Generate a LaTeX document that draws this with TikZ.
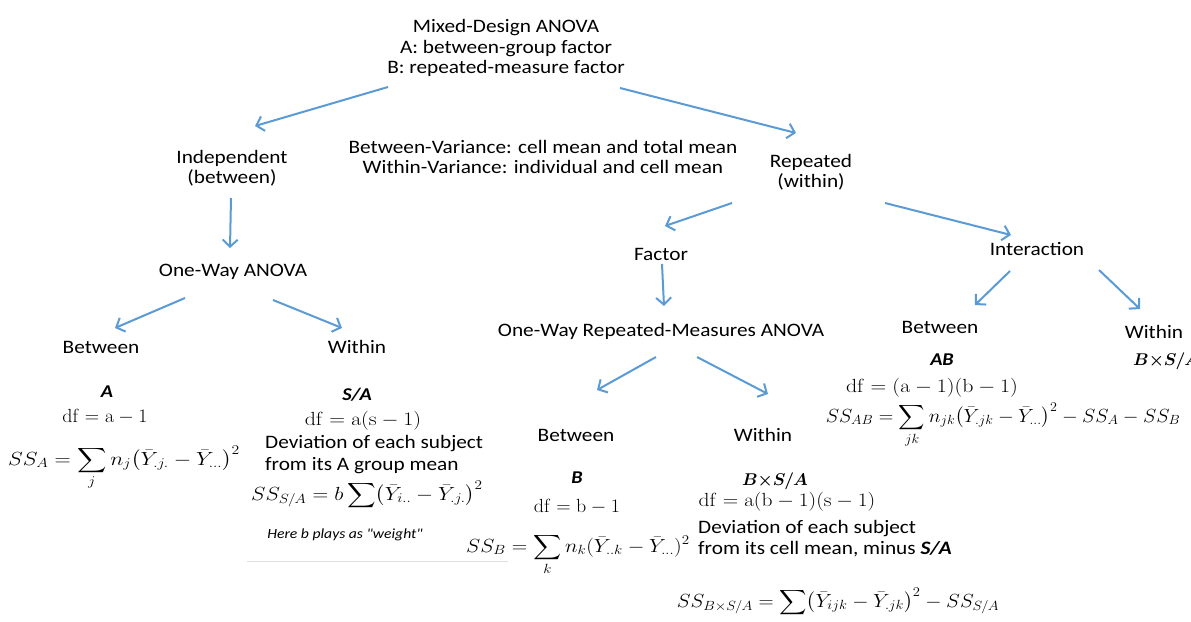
\RequirePackage{fix-cm}
\documentclass[tikz,border=0pt]{standalone}
\usepackage{amsmath}
\usepackage{bm}
\usepackage{graphicx}
\usepackage[no-math]{fontspec}
\setmainfont{Carlito}[FakeStretch=1.12]
\newfontfamily\plainquote{Carlito}[FakeStretch=1.12, Ligatures=TeXOff]
\usetikzlibrary{arrows.meta}
\definecolor{arrblue}{RGB}{91,155,213}
\newcommand{\hsc}[2]{\scalebox{#1}[1]{#2}}
\tikzset{
  txt/.style={font=\fontsize{19}{20.5}\selectfont, align=center, inner sep=0pt},
  ltxt/.style={font=\fontsize{19}{20.5}\selectfont, inner sep=0pt, anchor=base west},
  lab/.style={font=\fontsize{18}{21}\selectfont\bfseries\itshape, inner sep=0pt, anchor=base},
  mth/.style={font=\fontsize{19}{23}\selectfont, inner sep=0pt, anchor=base},
  blab/.style={font=\fontsize{17}{21}\selectfont, inner sep=0pt, anchor=base},
  small/.style={font=\plainquote\fontsize{14}{16}\selectfont\itshape, inner sep=0pt, anchor=base},
  arr/.style={draw=arrblue, line width=2pt, -{Straight Barb[length=7pt,width=15pt,line width=2pt]}}
}
\begin{document}
\begin{tikzpicture}[x=1pt,y=-1pt]
\useasboundingbox[fill=white] (0,0) rectangle (1191,621);
% top
\node[txt] (title) at (506,48) {Mixed-Design ANOVA\\A: between-group factor\\B: repeated-measure factor};
\node[txt] (var) at (543,157) {Between-Variance: cell mean and total mean\\Within-Variance: individual and cell mean};
\node[txt] (indep) at (232,168) {Independent\\(between)};
\node[txt] (rep) at (811,172) {Repeated\\(within)};
% left branch
\node[txt] (oneway) at (233,272) {One-Way ANOVA};
\node[txt] (b1) at (101,347) {Between};
\node[txt] (w1) at (357,347) {Within};
\node[lab] (labA) at (107,397) {A};
\node[mth] (dfA) at (105,422) {\hsc{1.05}{$\mathrm{df}=\mathrm{a}-1$}};
\node[mth] (ssA) at (124,465) {\hsc{1.18}{$\displaystyle SS_A=\sum_j n_j\bigl(\bar Y_{.j.}-\bar Y_{...}\bigr)^2$}};
\node[lab] (labSA) at (357,400) {S/A};
\node[mth] (dfSA) at (363,425) {\hsc{1.15}{$\mathrm{df}=\mathrm{a}(\mathrm{s}-1)$}};
\node[ltxt] (devSA1) at (265,448) {Deviation of each subject};
\node[ltxt] (devSA2) at (265,470) {from its A group mean};
\node[mth] (ssSA) at (367,500) {\hsc{1.15}{$\displaystyle SS_{S/A}=b\sum\bigl(\bar Y_{i..}-\bar Y_{.j.}\bigr)^2$}};
\node[small] (note) at (345,538) {Here b plays as "weight"};
\coordinate (gl1) at (247,561);
\coordinate (gl2) at (508,561);
\draw[black!12, line width=1pt] (gl1) -- (gl2);
% right branch
\node[txt] (factor) at (661,254) {Factor};
\node[txt] (inter) at (1037,249) {Interaction};
\node[txt] (owrm) at (661,331) {One-Way Repeated-Measures ANOVA};
\node[txt] (b2) at (576,435) {Between};
\node[txt] (w2) at (763,435) {Within};
\node[lab] (labB) at (577,483) {B};
\node[mth] (dfB) at (577,512) {\hsc{1.05}{$\mathrm{df}=\mathrm{b}-1$}};
\node[mth] (ssB) at (578,552) {\hsc{1.13}{$\displaystyle SS_B=\sum_k n_k(\bar Y_{..k}-\bar Y_{...})^2$}};
\node[blab] (labBSA) at (775,485) {$\bm{B{\times}S/A}$};
\node[mth] (dfBSA) at (787,506) {\hsc{1.13}{$\mathrm{df}=\mathrm{a}(\mathrm{b}-1)(\mathrm{s}-1)$}};
\node[ltxt] (devBSA1) at (698,533) {Deviation of each subject};
\node[ltxt] (devBSA2) at (698,554) {from its cell mean, minus \textbf{\textit{S/A}}};
\node[mth] (ssBSA) at (838,607) {\hsc{1.1}{$\displaystyle SS_{B{\times}S/A}=\sum\bigl(\bar Y_{ijk}-\bar Y_{.jk}\bigr)^2-SS_{S/A}$}};
\node[txt] (b3) at (940,327) {Between};
\node[txt] (w3) at (1154,332) {Within};
\node[lab] (labAB) at (942,365) {AB};
\node[mth] (dfAB) at (932,392) {\hsc{1.15}{$\mathrm{df}=(\mathrm{a}-1)(\mathrm{b}-1)$}};
\node[mth] (ssAB) at (1003,422) {\hsc{1.06}{$\displaystyle SS_{AB}=\sum_{jk} n_{jk}\bigl(\bar Y_{.jk}-\bar Y_{...}\bigr)^2-SS_A-SS_B$}};
\node[blab, anchor=base west] (labBSA2) at (1133,365) {$\bm{B{\times}S/A}$};
% arrow end points
\coordinate (a1s) at (388,87); \coordinate (a1e) at (255,126);
\coordinate (a2s) at (620,88); \coordinate (a2e) at (796,133);
\coordinate (a3s) at (231,198); \coordinate (a3e) at (230,248);
\coordinate (a4s) at (185,298); \coordinate (a4e) at (115,328);
\coordinate (a5s) at (273,300); \coordinate (a5e) at (342,328);
\coordinate (a6s) at (732,203); \coordinate (a6e) at (665,226);
\coordinate (a7s) at (885,203); \coordinate (a7e) at (1011,235);
\coordinate (a8s) at (662,264); \coordinate (a8e) at (664,306);
\coordinate (a9s) at (656,357); \coordinate (a9e) at (597,390);
\coordinate (a10s) at (697,357); \coordinate (a10e) at (768,394);
\coordinate (a11s) at (1010,271); \coordinate (a11e) at (975,305);
\coordinate (a12s) at (1099,270); \coordinate (a12e) at (1140,309);
\foreach \i in {1,...,12} { \draw[arr] (a\i s) -- (a\i e); }
\end{tikzpicture}
\end{document}
